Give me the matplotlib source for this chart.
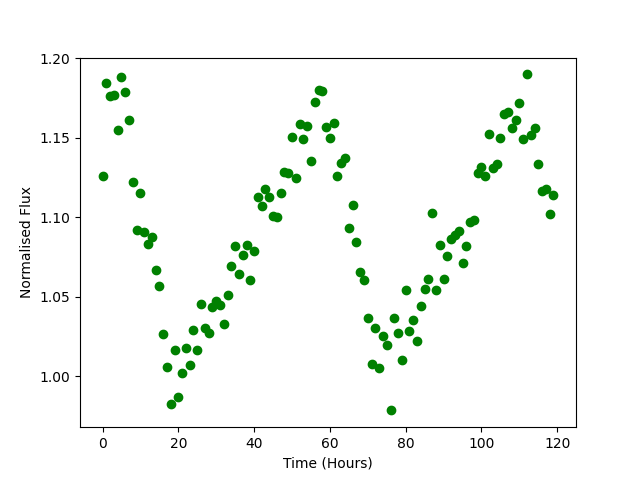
import numpy as np
import matplotlib
matplotlib.use('Agg')
import matplotlib.pyplot as plt

# time in hours, one reading per hour
time = np.arange(120)

flux = [1.1256, 1.1841, 1.1761, 1.1765, 1.1545, 1.1878, 1.1784, 1.1608, 1.1218, 1.0922,
        1.1155, 1.0904, 1.0834, 1.0878, 1.0671, 1.0570, 1.0268, 1.0057, 0.9824, 1.0168,
        0.9872, 1.0023, 1.0176, 1.0073, 1.0289, 1.0168, 1.0457, 1.0302, 1.0275, 1.0438,
        1.0474, 1.0451, 1.0327, 1.0514, 1.0692, 1.0816, 1.0646, 1.0765, 1.0828, 1.0604,
        1.0790, 1.1126, 1.1069, 1.1174, 1.1126, 1.1008, 1.1000, 1.1155, 1.1283, 1.1275,
        1.1501, 1.1243, 1.1585, 1.1488, 1.1570, 1.1350, 1.1721, 1.1799, 1.1790, 1.1564,
        1.1495, 1.1591, 1.1258, 1.1338, 1.1369, 1.0929, 1.1075, 1.0847, 1.0654, 1.0608,
        1.0365, 1.0080, 1.0302, 1.0055, 1.0256, 1.0199, 0.9786, 1.0365, 1.0270, 1.0101,
        1.0541, 1.0283, 1.0352, 1.0220, 1.0440, 1.0551, 1.0614, 1.1029, 1.0541, 1.0828,
        1.0614, 1.0755, 1.0866, 1.0891, 1.0916, 1.0711, 1.0818, 1.0971, 1.0981, 1.1279,
        1.1317, 1.1258, 1.1522, 1.1310, 1.1331, 1.1495, 1.1648, 1.1662, 1.1558, 1.1610,
        1.1715, 1.1489, 1.1897, 1.1518, 1.1558, 1.1331, 1.1163, 1.1180, 1.1023, 1.1142]

fig = plt.figure(figsize=(6.4, 4.8), dpi=100)
plt.plot(time, flux, 'go')
plt.xlabel('Time (Hours)')
plt.ylabel('Normalised Flux')
plt.savefig('out.png')
